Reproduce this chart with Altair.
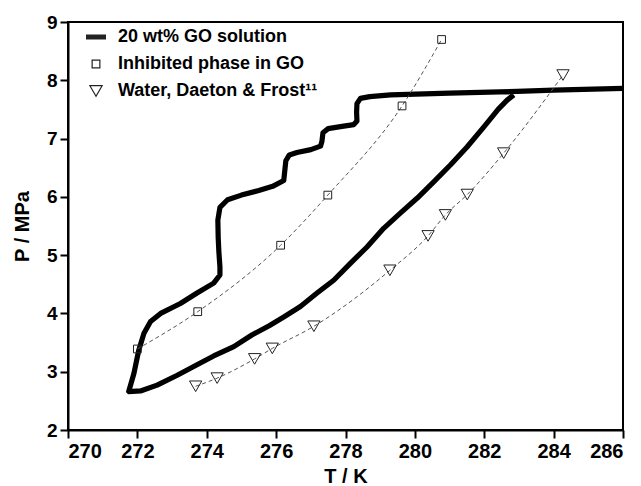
import altair as alt
import pandas as pd

SERIES = ["20 wt% GO solution", "Inhibited phase in GO", "Water, Daeton & Frost\u00b9\u00b9"]

# 20 wt% GO solution: cooling (top, steps) then heating (lower branch)
loop_T = [286.0, 284.0, 282.95, 281.0, 279.3, 278.7, 278.43, 278.33, 278.32, 278.33, 278.24,
          277.9, 277.5, 277.35, 277.32, 277.28, 277.0, 276.6, 276.38, 276.28, 276.25, 276.22,
          275.9, 275.5, 275.0, 274.6, 274.38, 274.32, 274.33, 274.35, 274.38, 274.38, 274.2,
          273.72, 273.24, 272.67, 272.38, 272.19, 272.04, 271.9, 271.75,
          272.09, 272.57, 273.15, 273.72, 274.2, 274.78, 275.3, 275.8, 276.22, 276.7, 277.18,
          277.66, 278.14, 278.62, 279.1, 279.58, 280.07, 280.55, 281.03, 281.51, 281.99, 282.4,
          282.66, 282.85]
loop_P = [7.86, 7.83, 7.81, 7.78, 7.75, 7.72, 7.69, 7.6, 7.45, 7.3, 7.24,
          7.21, 7.17, 7.1, 6.95, 6.87, 6.81, 6.76, 6.72, 6.62, 6.45, 6.28,
          6.18, 6.11, 6.03, 5.95, 5.82, 5.6, 5.3, 5.05, 4.8, 4.66, 4.52,
          4.35, 4.17, 4.0, 3.86, 3.66, 3.37, 2.97, 2.66,
          2.67, 2.77, 2.94, 3.12, 3.27, 3.43, 3.63, 3.79, 3.94, 4.12, 4.35,
          4.57, 4.86, 5.14, 5.46, 5.72, 5.98, 6.26, 6.55, 6.86, 7.2, 7.5,
          7.66, 7.75]

sq_T = [272.0, 273.74, 276.13, 277.49, 279.63, 280.77]
sq_P = [3.39, 4.03, 5.17, 6.03, 7.56, 8.70]

tri_T = [273.68, 274.30, 275.38, 275.89, 277.09, 279.28, 280.38, 280.88, 281.51, 282.56, 284.27]
tri_P = [2.75, 2.89, 3.22, 3.40, 3.78, 4.74, 5.33, 5.69, 6.04, 6.75, 8.09]

x_ticks = [270, 271, 272, 273, 274, 275, 276, 277, 278, 279, 280, 281, 282, 283, 284, 285, 286]
y_ticks = [2, 2.5, 3, 3.5, 4, 4.5, 5, 5.5, 6, 6.5, 7, 7.5, 8, 8.5, 9]

FONT = "Liberation Sans"

loop_df = pd.DataFrame({"T": loop_T, "P": loop_P, "order": list(range(len(loop_T)))})
pts_df = pd.concat([
    pd.DataFrame({"T": sq_T, "P": sq_P, "series": SERIES[1]}),
    pd.DataFrame({"T": tri_T, "P": tri_P, "series": SERIES[2]}),
], ignore_index=True)

x_enc = alt.X("T:Q", scale=alt.Scale(domain=[270, 286], nice=False),
              axis=alt.Axis(values=x_ticks, title="T / K",
                            labelExpr="datum.value % 2 === 0 ? datum.label : ''",
                            tickSize={"condition": {"test": "datum.value % 2 === 0", "value": 8}, "value": 5},
                            labelFontSize=20, titleFontSize=20, labelPadding=3, titlePadding=5))
y_enc = alt.Y("P:Q", scale=alt.Scale(domain=[2, 9], nice=False),
              axis=alt.Axis(values=y_ticks, title="P / MPa",
                            labelExpr="datum.value % 1 === 0 ? format(datum.value, 'd') : ''",
                            tickSize={"condition": {"test": "datum.value % 1 === 0", "value": 8}, "value": 5},
                            labelFontSize=19, titleFontSize=20, labelPadding=3, titlePadding=14))

loop = alt.Chart(loop_df).mark_line(color="black", strokeWidth=5.2, strokeJoin="round").encode(
    x=x_enc, y=y_enc, order="order:Q")

dashes = alt.Chart(pts_df).mark_line(color="#555", strokeWidth=1, strokeDash=[4, 3],
                                     interpolate="monotone").encode(
    x="T:Q", y="P:Q", detail="series:N")

line_symbol = "M-1,-0.18H1M-1,-0.06H1M-1,0.06H1M-1,0.18H1"
legend = alt.Legend(title=None, orient="none", legendX=17, legendY=4, padding=0,
                    labelFontSize=18, labelFont=FONT, labelFontWeight="bold", labelColor="black",
                    labelOffset=11, rowPadding=9, symbolStrokeWidth=1.2, labelLimit=0)
points = alt.Chart(pts_df).mark_point(filled=False, color="#222", strokeWidth=1, opacity=1).encode(
    x="T:Q", y="P:Q",
    shape=alt.Shape("series:N", scale=alt.Scale(domain=SERIES, range=[line_symbol, "square", "triangle-down"]),
                    legend=legend),
    size=alt.Size("series:N", scale=alt.Scale(type="ordinal", domain=SERIES, range=[400, 60, 150]),
                  legend=legend),
)

chart = alt.layer(loop, dashes, points).properties(
    width=555, height=408,
    padding={"left": 68, "top": 22, "right": 18, "bottom": 56},
    autosize=alt.AutoSizeParams(type="none"),
).configure_view(stroke="black", strokeWidth=2).configure_axis(
    grid=False, domainColor="black", domainWidth=2, tickColor="black", tickWidth=2,
    labelFont=FONT, labelFontWeight="bold", labelColor="black",
    titleFont=FONT, titleFontWeight="bold", titleColor="black",
)

chart.save("out.html", embed_options={"renderer": "svg", "actions": False})
